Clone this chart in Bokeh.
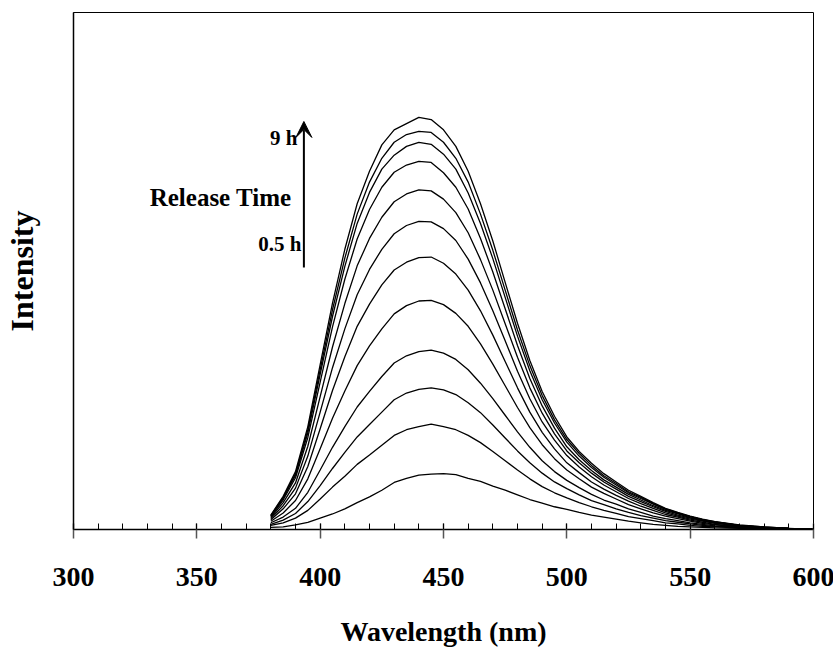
from bokeh.plotting import figure
from bokeh.models import Label, Arrow, VeeHead, SingleIntervalTicker, FixedTicker
from bokeh.embed import file_html
from bokeh.resources import INLINE

# Wavelength samples (nm)
wavelength = [380, 385, 390, 395, 400, 405, 410, 415, 420, 425, 430, 435, 440,
              445, 450, 455, 460, 465, 470, 475, 480, 485, 490, 495, 500, 505,
              510, 515, 520, 525, 530, 535, 540, 545, 550, 555, 560, 570, 580,
              590, 600]

# Emission intensity (arb. units), release time 0.5 h (bottom) ... 9 h (top)
I_01 = [4, 5, 9, 14, 22, 30, 40, 52, 63, 76, 91, 99, 105, 107, 108, 106, 99, 93, 84, 76, 67, 58, 51, 44, 39, 33, 28, 24, 20, 16, 13, 10, 8, 6, 5, 4, 3, 2, 1, 0, 0]
I_02 = [8, 13, 22, 37, 59, 82, 103, 126, 144, 163, 182, 193, 199, 204, 199, 193, 182, 168, 151, 133, 115, 98, 83, 71, 61, 52, 44, 37, 31, 25, 21, 17, 13, 11, 8, 6, 5, 3, 1, 1, 0]
I_03 = [10, 18, 31, 54, 85, 118, 149, 179, 203, 227, 251, 264, 271, 274, 270, 261, 245, 226, 202, 177, 152, 129, 109, 92, 79, 67, 56, 48, 40, 33, 27, 22, 17, 14, 11, 8, 6, 4, 2, 1, 0]
I_04 = [13, 24, 41, 72, 115, 159, 199, 237, 267, 296, 322, 336, 344, 347, 341, 329, 309, 283, 253, 221, 189, 159, 133, 112, 95, 81, 68, 57, 49, 40, 33, 26, 21, 17, 13, 10, 7, 4, 2, 1, 0]
I_05 = [16, 32, 56, 98, 156, 215, 268, 317, 355, 388, 417, 433, 442, 443, 435, 418, 393, 359, 320, 278, 236, 197, 164, 137, 115, 98, 82, 70, 59, 48, 40, 32, 26, 21, 16, 12, 9, 5, 3, 1, 0]
I_06 = [19, 40, 69, 122, 195, 269, 334, 393, 436, 473, 502, 517, 526, 527, 515, 494, 463, 423, 376, 325, 274, 227, 188, 156, 129, 110, 92, 78, 66, 55, 45, 37, 29, 24, 18, 14, 10, 6, 3, 2, 0]
I_07 = [21, 46, 80, 142, 227, 313, 388, 454, 503, 542, 572, 588, 596, 595, 582, 559, 523, 477, 423, 365, 306, 253, 208, 173, 143, 121, 102, 86, 73, 60, 50, 41, 32, 26, 20, 16, 12, 7, 4, 2, 1]
I_08 = [23, 52, 90, 161, 257, 353, 437, 510, 563, 604, 634, 649, 657, 655, 639, 613, 574, 522, 463, 398, 333, 274, 225, 185, 152, 129, 109, 92, 78, 64, 54, 44, 35, 28, 22, 17, 13, 7, 4, 2, 1]
I_09 = [25, 57, 100, 178, 285, 392, 484, 562, 619, 662, 691, 705, 712, 710, 690, 662, 620, 563, 498, 427, 356, 292, 239, 196, 160, 135, 114, 96, 82, 68, 57, 46, 37, 30, 23, 18, 14, 8, 4, 2, 1]
I_10 = [26, 60, 105, 187, 300, 412, 509, 592, 652, 697, 724, 741, 749, 745, 726, 697, 651, 592, 524, 449, 374, 307, 251, 206, 169, 142, 120, 101, 86, 71, 60, 49, 39, 31, 25, 19, 14, 8, 4, 2, 1]
I_11 = [27, 62, 108, 193, 309, 425, 525, 610, 672, 718, 749, 764, 770, 768, 749, 718, 672, 610, 540, 463, 386, 317, 259, 212, 174, 147, 124, 104, 89, 73, 62, 50, 40, 32, 25, 19, 15, 8, 5, 2, 1]
I_12 = [28, 64, 112, 199, 319, 438, 542, 630, 693, 744, 773, 785, 797, 793, 773, 741, 693, 630, 558, 478, 399, 327, 267, 219, 179, 151, 128, 108, 92, 76, 64, 52, 41, 33, 26, 20, 15, 9, 5, 2, 1]

series = [I_01, I_02, I_03, I_04, I_05, I_06, I_07, I_08, I_09, I_10, I_11, I_12]

x_ticks_interval = 50
x_label = "Wavelength (nm)"
y_label = "Intensity"

FONT = "Liberation Serif"

p = figure(frame_width=740, frame_height=517,
           min_border_left=72, min_border_top=12, min_border_right=21, min_border_bottom=122,
           x_range=(300, 600), y_range=(0, 1000),
           output_backend="svg", toolbar_location=None)

p.background_fill_color = "white"
p.border_fill_color = "white"
p.outline_line_color = "black"
p.outline_line_width = 1
p.xgrid.grid_line_color = None
p.ygrid.grid_line_color = None

for ys in series:
    p.line(wavelength, ys, line_color="black", line_width=1.3)

# x axis
xa = p.xaxis[0]
xa.ticker = SingleIntervalTicker(interval=x_ticks_interval, num_minor_ticks=5)
xa.axis_line_color = "black"
xa.axis_line_width = 1.5
xa.major_tick_line_color = "#555555"
xa.major_tick_line_width = 1.5
xa.major_tick_in = 6
xa.major_tick_out = 9
xa.minor_tick_line_color = "black"
xa.minor_tick_line_width = 1
xa.minor_tick_in = 6
xa.minor_tick_out = 0
xa.major_label_text_font = FONT
xa.major_label_text_font_style = "bold"
xa.major_label_text_font_size = "28px"
xa.major_label_text_color = "black"
xa.major_label_standoff = 29
xa.axis_label = x_label
xa.axis_label_text_font = FONT
xa.axis_label_text_font_style = "bold"
xa.axis_label_text_font_size = "28px"
xa.axis_label_text_color = "black"
xa.axis_label_standoff = 27

# y axis: line only, with title
ya = p.yaxis[0]
ya.ticker = FixedTicker(ticks=[])
ya.axis_line_color = "black"
ya.axis_line_width = 1.5
ya.major_tick_line_color = None
ya.minor_tick_line_color = None
ya.major_tick_in = 0
ya.major_tick_out = 0
ya.major_label_standoff = 0
ya.major_label_text_font_size = "0px"
ya.axis_label = y_label
ya.axis_label_text_font = FONT
ya.axis_label_text_font_style = "bold"
ya.axis_label_text_font_size = "32px"
ya.axis_label_text_color = "black"
ya.axis_label_standoff = 34

# Release time annotation
p.add_layout(Arrow(end=VeeHead(size=16, fill_color="black", line_color="black"),
                   x_start=393.4, y_start=506.8, x_end=393.4, y_end=789.2,
                   line_color="black", line_width=2))
p.add_layout(Label(x=390.8, y=756.3, text="9 h", text_align="right",
                   text_baseline="alphabetic", text_font=FONT, text_font_style="bold",
                   text_font_size="21px", text_color="black"))
p.add_layout(Label(x=388.4, y=641.2, text="Release Time", text_align="right",
                   text_baseline="alphabetic", text_font=FONT, text_font_style="bold",
                   text_font_size="25px", text_color="black"))
p.add_layout(Label(x=392.4, y=552.3, text="0.5 h", text_align="right",
                   text_baseline="alphabetic", text_font=FONT, text_font_style="bold",
                   text_font_size="21px", text_color="black"))

open("out.html", "w").write(file_html(p, INLINE))
